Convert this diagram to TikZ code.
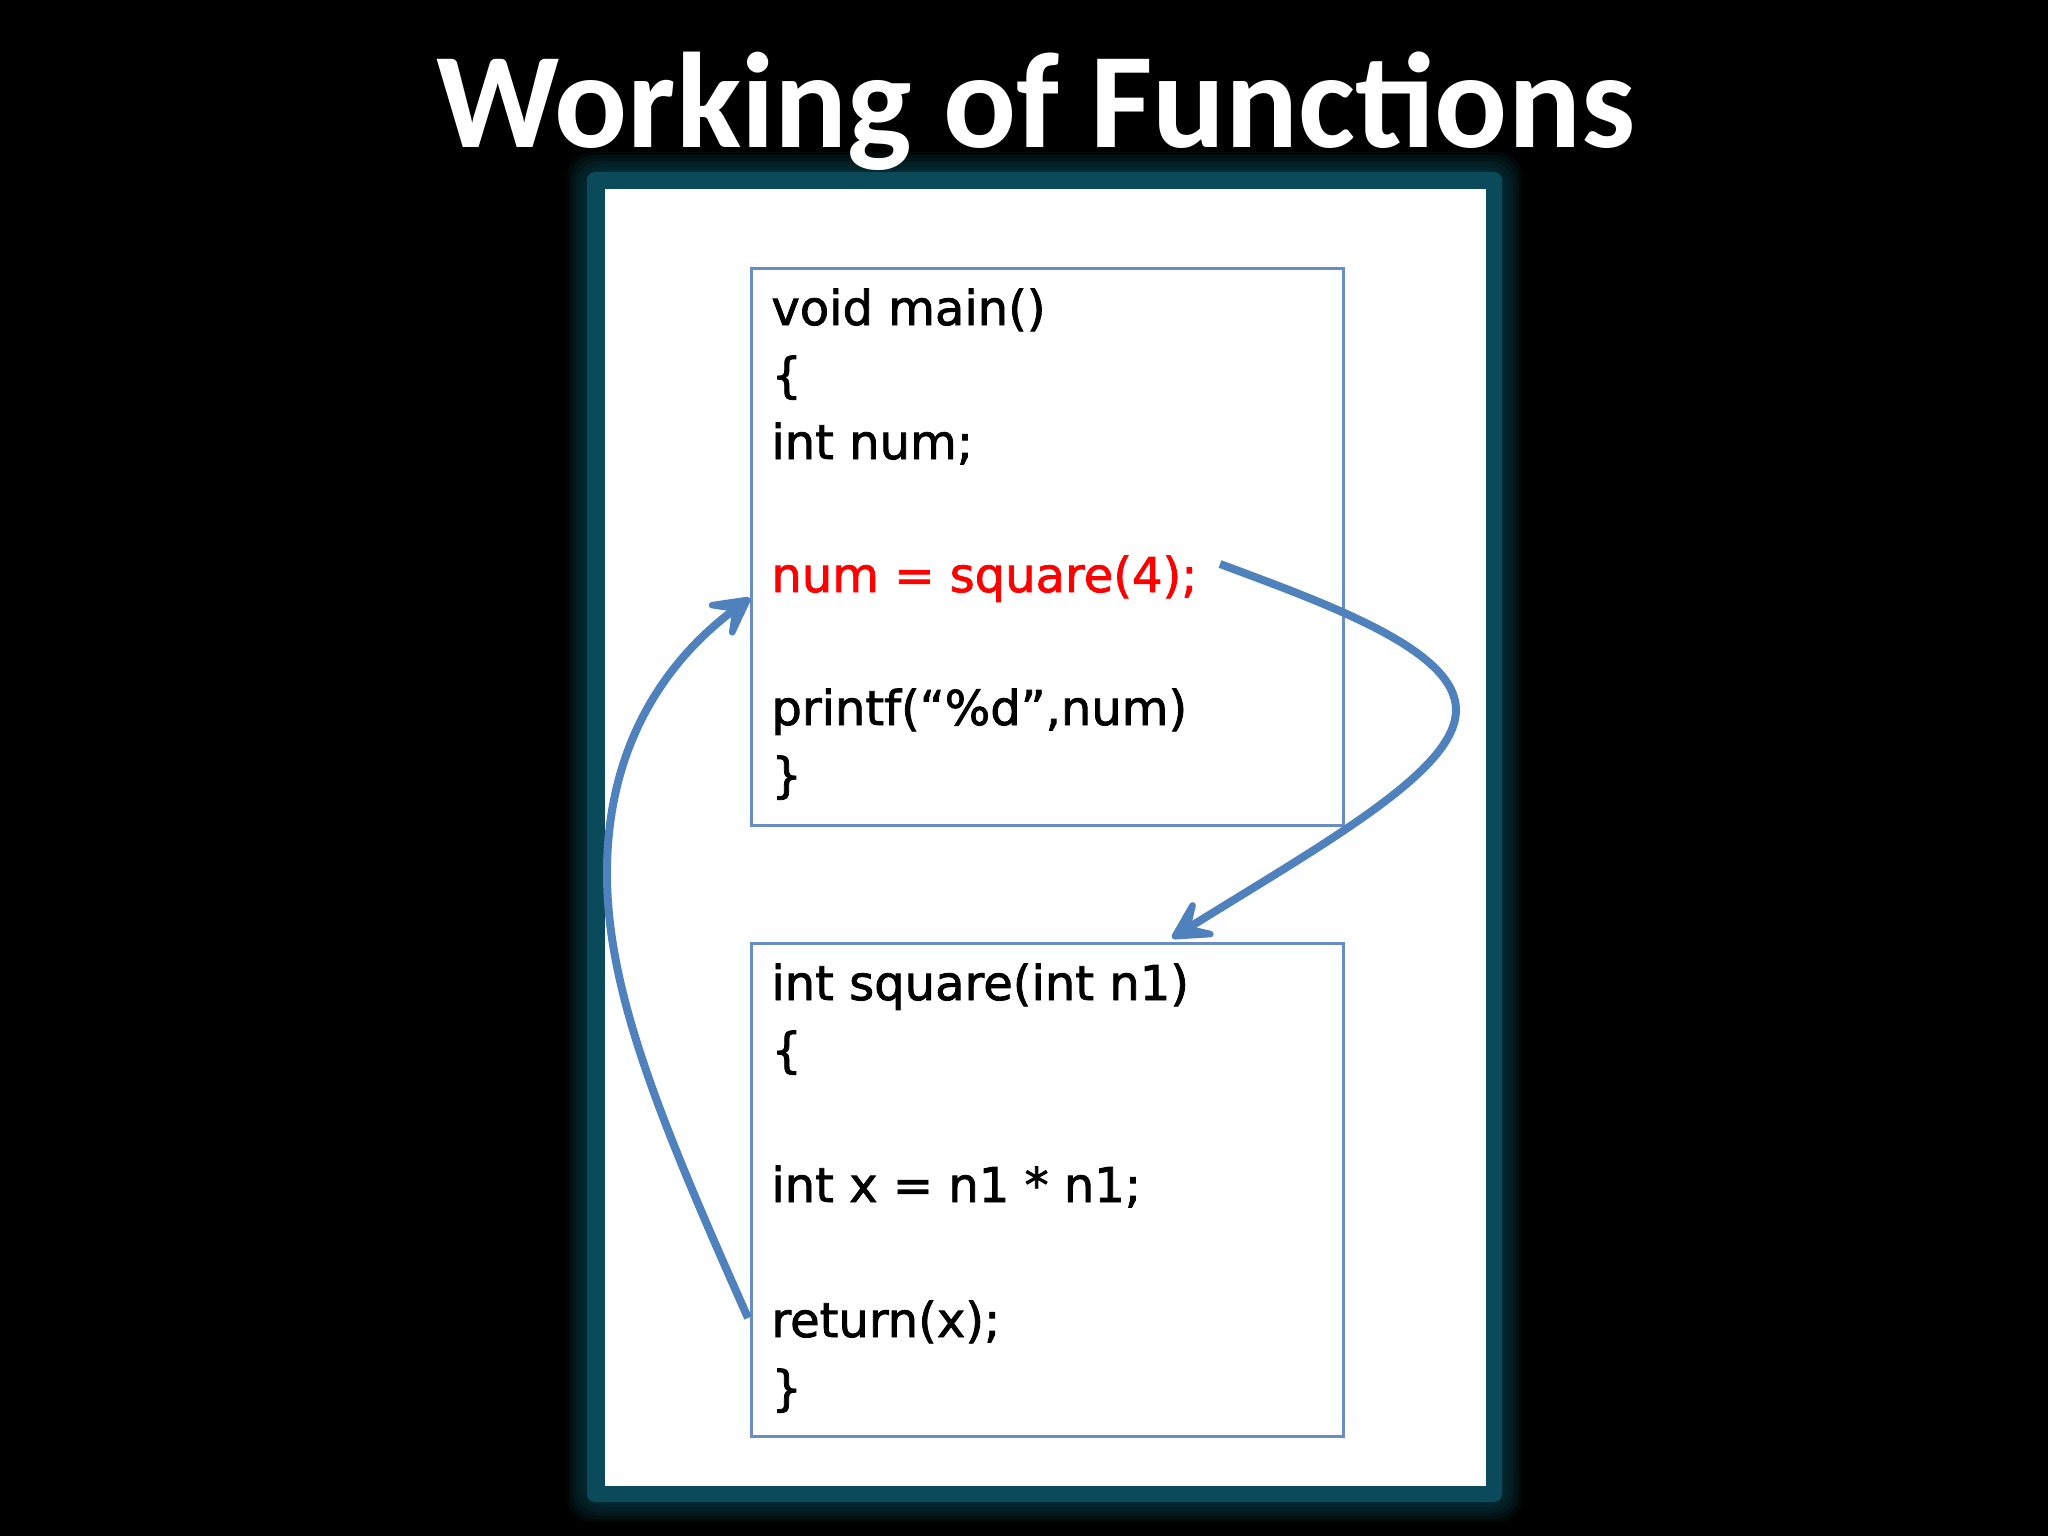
\documentclass[tikz,border=0pt]{standalone}
\usepackage{fontspec}
\setmainfont{DejaVu Sans}[FakeBold=1.6]
\newfontfamily\titlefont{Carlito}
\usetikzlibrary{arrows.meta}
\definecolor{frameteal}{RGB}{11,74,90}
\definecolor{arrowblue}{RGB}{79,129,189}
\definecolor{boxblue}{RGB}{105,140,200}
\definecolor{codered}{RGB}{255,0,0}
\begin{document}
\begin{tikzpicture}[x=0.5pt,y=-0.5pt,
  codeline/.style={anchor=base west, inner sep=0pt, font=\fontsize{24}{28}\selectfont, text=black},
  codebox/.style={draw=boxblue, line width=1.25pt, fill=none, anchor=north west, inner sep=0pt, minimum width=296pt},
  flow/.style={draw=arrowblue, line width=4pt, -{Stealth[length=28pt,width=30pt,inset=15pt,round]}}]
\useasboundingbox (0,0) rectangle (2048,1536);
\fill[black] (0,0) rectangle (2048,1536);
% glow
\foreach \d in {20,17,...,2} {
  \fill[frameteal, opacity=0.12, rounded corners=12pt] (587-\d,172-\d) rectangle (1502+\d,1502+\d);
}
\fill[frameteal, rounded corners=4pt] (587,172) rectangle (1502,1502);
\fill[white] (605,189) rectangle (1486,1486);
% title
\node[font=\titlefont\bfseries\fontsize{68}{80}\selectfont, text=white, anchor=base, inner sep=0pt] (title) at (1036,148) {Working of Functions};
% boxes
\node[codebox, minimum height=278.5pt] (mainbox) at (750,267) {};
\node[codebox, minimum height=246.5pt] (sqbox) at (750,942) {};
% main code
\node[codeline] (m1) at (771,325) {void main()};
\node[codeline] (m2) at (771,392) {\{};
\node[codeline] (m3) at (771,459) {int num;};
\node[codeline, text=codered] (m4) at (771,592) {num = square(4);};
\node[codeline] (m5) at (771,725) {printf(“\%d”,num)};
\node[codeline] (m6) at (771,792) {\}};
% square code
\node[codeline] (s1) at (771,1000) {int square(int n1)};
\node[codeline] (s2) at (771,1067) {\{};
\node[codeline] (s3) at (771,1202) {int x = n1 * n1;};
\node[codeline] (s4) at (771,1337) {return(x);};
\node[codeline] (s5) at (771,1405) {\}};
% arrows
\coordinate (callstart) at (1220,564);
\coordinate (callturn) at (1456,710);
\coordinate (callend) at (1172,938);
\coordinate (retstart) at (748,1318);
\coordinate (retturn) at (607,870);
\coordinate (retend) at (750,598);
\draw[flow] (callstart) .. controls (1330,605) and (1456,650) .. (callturn) .. controls (1456,770) and (1330,840) .. (callend);
\draw[flow] (retstart) .. controls (660,1120) and (606,990) .. (retturn) .. controls (608,730) and (680,650) .. (retend);
\end{tikzpicture}
\end{document}
